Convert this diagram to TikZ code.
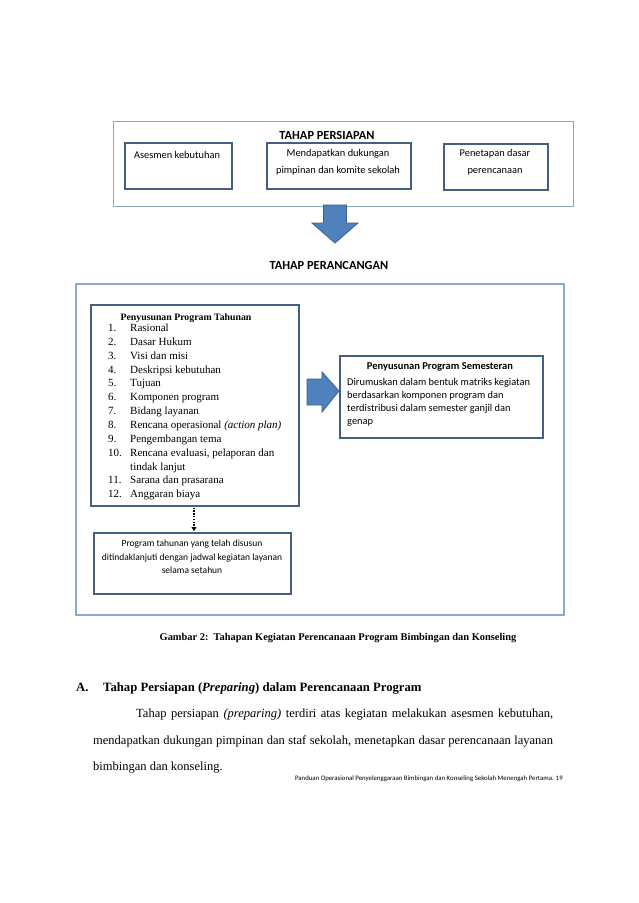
\documentclass[tikz,border=0pt]{standalone}
\usepackage{fontspec}
\setmainfont{Liberation Serif}
\newfontfamily\calfont{Carlito}
\usetikzlibrary{arrows.meta,calc}
\definecolor{outerA}{HTML}{8EA7C6}
\definecolor{outerB}{HTML}{8DAAD6}
\definecolor{innerbox}{HTML}{435F82}
\definecolor{arrowfill}{HTML}{4F81BD}
\definecolor{arrowline}{HTML}{3A5F8D}
\tikzset{
  outerone/.style={draw=outerA,line width=1pt,anchor=north west,inner sep=0pt},
  outertwo/.style={draw=outerB,line width=1.8pt,anchor=north west,inner sep=0pt},
  stepbox/.style={draw=innerbox,line width=1.6pt,anchor=north west,inner sep=0pt},
  caltxt/.style={font=\calfont\fontsize{10.4}{12}\selectfont,inner sep=0pt,anchor=base},
  calbold/.style={font=\calfont\bfseries\fontsize{10.5}{12}\selectfont,inner sep=0pt,anchor=base},
  stagetitle/.style={font=\calfont\bfseries\fontsize{12.4}{14}\selectfont,inner sep=0pt,anchor=base},
  listtxt/.style={font=\fontsize{11}{12}\selectfont,inner sep=0pt,anchor=base west},
  blockarrow/.style={fill=arrowfill,draw=arrowline,line width=0.8pt,line join=miter},
  bodytxt/.style={font=\fontsize{12.5}{14}\selectfont,inner sep=0pt,anchor=base west},
}
\begin{document}
\begin{tikzpicture}[x=1pt,y=-1pt]
\useasboundingbox[fill=white] (0,0) rectangle (638,903);
% Stage 1
\node[outerone,minimum width=460pt,minimum height=85pt] (prep) at (113,121) {};
\node[stagetitle] (preptitle) at (327,139) {TAHAP PERSIAPAN};
\node[stepbox,minimum width=107pt,minimum height=46pt] (b1) at (124,142) {};
\node[stepbox,minimum width=144pt,minimum height=46pt] (b2) at (266,142) {};
\node[stepbox,minimum width=104pt,minimum height=46pt] (b3) at (443,143) {};
\node[caltxt] (b1t) at (177,158.5) {Asesmen kebutuhan};
\node[caltxt] (b2t1) at (338,156.5) {Mendapatkan dukungan};
\node[caltxt] (b2t2) at (338,173.5) {pimpinan dan komite sekolah};
\node[caltxt] (b3t1) at (495,156.5) {Penetapan dasar};
\node[caltxt] (b3t2) at (495,173.5) {perencanaan};
% down arrow
\coordinate (dtop) at (335,205);
\coordinate (dtip) at (335,243);
\draw[blockarrow] ($(dtop)+(-11.5,0)$) -- ++(0,18) -- ++(-11.5,0) -- (dtip) -- ($(dtop)+(23,18)$) -- ++(-11.5,0) -- ($(dtop)+(11.5,0)$) -- cycle;
\node[stagetitle] (plantitle) at (329,269) {TAHAP PERANCANGAN};
% Stage 2
\node[outertwo,minimum width=488pt,minimum height=331pt] (plan) at (75,283) {};
\node[stepbox,minimum width=208pt,minimum height=201pt] (tahunan) at (90,304) {};
\node[font=\bfseries\fontsize{9.8}{11}\selectfont,inner sep=0pt,anchor=base] (tahtitle) at (186,320.5) {Penyusunan Program Tahunan};
\foreach \n/\t [count=\i from 0] in {1./Rasional,2./Dasar Hukum,3./Visi dan misi,4./Deskripsi kebutuhan,5./Tujuan,6./Komponen program,7./Bidang layanan,8./{Rencana operasional \textit{(action plan)}},9./Pengembangan tema,10./{Rencana evaluasi, pelaporan dan},/tindak lanjut,11./Sarana dan prasarana,12./Anggaran biaya}{
  \node[listtxt] (num\i) at (108,331.5+13.85*\i) {\n};
  \node[listtxt] (item\i) at (130,331.5+13.85*\i) {\t};
}
% right arrow
\coordinate (rtail) at (307,391);
\coordinate (rtip) at (339,391);
\draw[blockarrow] ($(rtail)+(0,-12)$) -- ++(15,0) -- ++(0,-7) -- (rtip) -- ($(rtail)+(15,21)$) -- ++(0,-7) -- ($(rtail)+(0,14)$) -- cycle;
\node[stepbox,minimum width=203pt,minimum height=82pt] (sem) at (339,355) {};
\node[calbold] (semtitle) at (440,369.5) {Penyusunan Program Semesteran};
\foreach \t [count=\i from 0] in {Dirumuskan dalam bentuk matriks kegiatan,berdasarkan komponen program dan,terdistribusi dalam semester ganjil dan,genap}{
  \node[caltxt,anchor=base west] (semt\i) at (347,385.5+13*\i) {\t};
}
% bottom box
\node[stepbox,minimum width=197pt,minimum height=61pt] (jadwal) at (93,532) {};
\coordinate (dstart) at (194,507.5);
\coordinate (dend) at (194,531);
\draw[line width=2pt,dash pattern=on 1.4pt off 1.4pt,-{Triangle[width=5pt,length=4pt]}] (dstart) -- (dend);
\node[caltxt,font=\calfont\fontsize{9.5}{11}\selectfont] (jt1) at (192,546.5) {Program tahunan yang telah disusun};
\node[caltxt,font=\calfont\fontsize{9.5}{11}\selectfont] (jt2) at (192,560.5) {ditindaklanjuti dengan jadwal kegiatan layanan};
\node[caltxt,font=\calfont\fontsize{9.5}{11}\selectfont] (jt3) at (192,573.5) {selama setahun};
% caption
\node[font=\bfseries\fontsize{10.4}{12}\selectfont,inner sep=0pt,anchor=base] (caption) at (338,640) {Gambar 2:\ \ Tahapan Kegiatan Perencanaan Program Bimbingan dan Konseling};
% text
\node[font=\bfseries\fontsize{12.7}{14}\selectfont,inner sep=0pt,anchor=base west] (hA) at (76,691.5) {A.};
\node[font=\bfseries\fontsize{12.7}{14}\selectfont,inner sep=0pt,anchor=base west] (hAt) at (103,691.5) {Tahap Persiapan (\textit{Preparing}) dalam Perencanaan Program};
\node[bodytxt] (p1) at (136,717.5) {\hbox to 417pt{Tahap persiapan \textit{(preparing)} terdiri atas kegiatan melakukan asesmen kebutuhan,}};
\node[bodytxt] (p2) at (93,744) {\hbox to 460pt{mendapatkan dukungan pimpinan dan staf sekolah, menetapkan dasar perencanaan layanan}};
\node[bodytxt] (p3) at (93,770.5) {bimbingan dan konseling.};
\node[font=\calfont\fontsize{6.8}{8}\selectfont,inner sep=0pt,anchor=base east] (footer) at (563,780.5) {Panduan Operasional Penyelenggaraan Bimbingan dan Konseling Sekolah Menengah Pertama. 19};
\end{tikzpicture}
\end{document}
